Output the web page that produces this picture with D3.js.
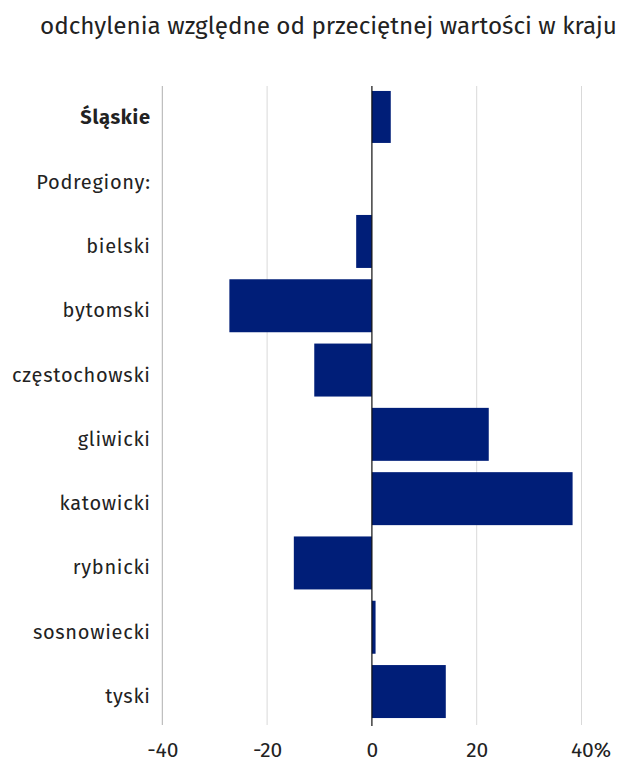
<!DOCTYPE html>
<html><head><meta charset="utf-8">
<script src="https://cdn.jsdelivr.net/npm/d3@7"></script>
<style>body{margin:0;background:#fff}svg{display:block}text{font-family:"Fira Sans","Noto Sans",sans-serif}</style>
</head><body>
<script>
const categories = ["Śląskie","Podregiony:","bielski","bytomski","częstochowski","gliwicki","katowicki","rybnicki","sosnowiecki","tyski"];
const values = [3.6, null, -3.0, -27.2, -11.0, 22.3, 38.3, -14.9, 0.7, 14.1];
const tickValues = [-40, -20, 0, 20, 40];
const tickLabels = ["-40", "-20", "0", "20", "40%"];
const title = "odchylenia względne od przeciętnej wartości w kraju";

const W = 619, H = 763;
const svg = d3.select("body").append("svg").attr("width", W).attr("height", H);
const x = d3.scaleLinear().domain([-40, 40]).range([162.3, 581.5]);
const y = d3.scaleBand().domain(categories).range([80.7, 723.7]).paddingInner(0.176).paddingOuter(0.088);

const t = svg.append("text").attr("x", 40).attr("y", 34).attr("font-size", 24).attr("fill", "#222").text(title);
if (t.node().getComputedTextLength() > 0) t.attr("textLength", 577).attr("lengthAdjust", "spacingAndGlyphs");

// gridlines
svg.append("g").selectAll("line").data(tickValues.filter(d => d !== 0)).join("line")
  .attr("x1", d => x(d)).attr("x2", d => x(d)).attr("y1", 86).attr("y2", 725)
  .attr("stroke", d => d === -40 ? "#b0b0b0" : "#d9d9d9").attr("stroke-width", 1);

// bars
svg.append("g").selectAll("rect").data(categories.map((c, i) => ({c, i, v: values[i]})).filter(d => d.v !== null)).join("rect")
  .attr("x", d => x(Math.min(0, d.v))).attr("width", d => Math.abs(x(d.v) - x(0)))
  .attr("y", d => y(d.c) + (d.i === 0 ? 4.6 : 0)).attr("height", d => y.bandwidth() - (d.i === 0 ? 1 : 0))
  .attr("fill", "#001e78");

// zero line
svg.append("line").attr("x1", x(0)).attr("x2", x(0)).attr("y1", 86).attr("y2", 726).attr("stroke", "#111").attr("stroke-width", 1.2);

// category labels
svg.append("g").selectAll("text").data(categories).join("text")
  .attr("x", 150.7).attr("y", d => y(d) + y.bandwidth() / 2 + 11.5)
  .attr("text-anchor", "end").attr("font-size", 20).attr("letter-spacing", 0.7).attr("fill", "#222")
  .attr("font-weight", (d, i) => i === 0 ? "bold" : "normal").text(d => d);

// x axis labels
const xa = d3.axisBottom(x).tickValues(tickValues).tickFormat((d, i) => tickLabels[i]).tickSize(0).tickPadding(0);
const g = svg.append("g").call(xa);
g.select(".domain").remove();
g.selectAll("text").attr("font-size", 21).attr("fill", "#222").attr("font-family", '"Fira Sans","Noto Sans",sans-serif')
  .attr("dy", null).attr("y", 757);
g.selectAll(".tick").filter(d => d === 40).select("text").attr("dx", 9);
</script>
</body></html>
